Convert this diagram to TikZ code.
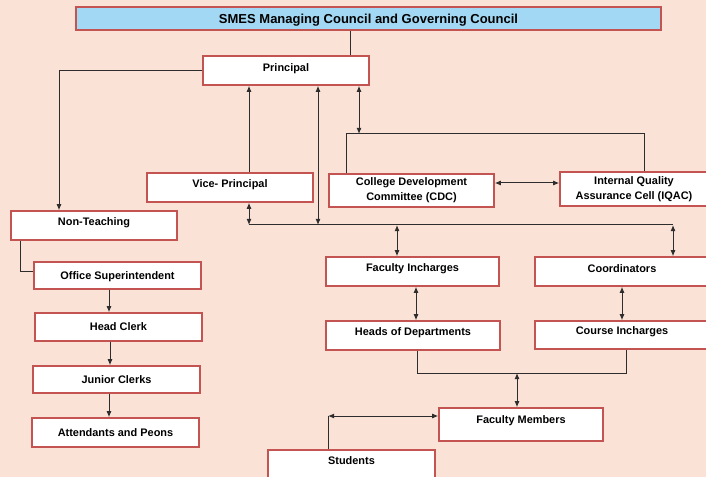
\documentclass[tikz,border=0pt]{standalone}
\usepackage{fontspec}
\setmainfont{Liberation Sans}
\usetikzlibrary{arrows.meta}
\definecolor{bgpeach}{RGB}{251,226,214}
\definecolor{boxred}{RGB}{196,84,82}
\definecolor{topblue}{RGB}{162,216,243}
\definecolor{linegray}{RGB}{45,45,45}

\tikzset{
  orgbox/.style 2 args={draw=boxred, line width=1.1pt, fill=white, inner sep=0pt,
    minimum width=#1*0.75pt, minimum height=#2*0.75pt,
    font=\fontsize{8.2}{11.3}\selectfont\bfseries},
  midbox/.style={text height=5.9pt, text depth=0pt},
  upbox/.style={text height=5.9pt, text depth=6.5pt},
  link/.style={draw=linegray, line width=0.75pt},
  onehead/.style={link, -{Latex[length=4.6pt,width=3.8pt]}},
  twohead/.style={link, {Latex[length=4.6pt,width=3.8pt]}-{Latex[length=4.6pt,width=3.8pt]}},
}

\begin{document}
\begin{tikzpicture}[x=0.75pt,y=0.75pt,yscale=-1,xscale=1]
\useasboundingbox (0,0) rectangle (706,477);
\clip (0,0) rectangle (706,477);
\fill[bgpeach] (0,0) rectangle (706,477);

%Shape: Rectangle (council)
\node[orgbox={585}{23}, fill=topblue, text height=7pt, text depth=0pt,
  font=\fontsize{9.75}{11}\selectfont\bfseries] (council) at (368.5,18.5) {SMES Managing Council and Governing Council};
%Shape: Rectangle (management)
\node[orgbox={166}{29}, upbox, text depth=4.8pt] (principal) at (286,70.5) {Principal};
\node[orgbox={166}{29}, upbox] (vice) at (230,187.5) {Vice- Principal};
\node[orgbox={166}{29}, upbox] (nonteach) at (94,225.5) {Non-Teaching};
\node[orgbox={165}{33}, align=center] (cdc) at (411.5,190.5) {College Development\\Committee (CDC)};
\node[orgbox={148}{34}, align=center] (iqac) at (634,189) {Internal Quality\\Assurance Cell (IQAC)};
%Shape: Rectangle (academic)
\node[orgbox={173}{29}, upbox] (facinch) at (412.5,271.5) {Faculty Incharges};
\node[orgbox={174}{29}, upbox, text depth=4.8pt] (coord) at (622,271.5) {Coordinators};
\node[orgbox={174}{29}, upbox] (hod) at (413,335.5) {Heads of Departments};
\node[orgbox={174}{28}, upbox] (course) at (622,335) {Course Incharges};
\node[orgbox={164}{33}, upbox, text depth=8pt] (facmem) at (521,424.5) {Faculty Members};
\node[orgbox={167}{29}, upbox] (students) at (351.5,464.5) {Students};
%Shape: Rectangle (office)
\node[orgbox={167}{27}, midbox] (office) at (117.5,275.5) {Office Superintendent};
\node[orgbox={167}{28}, midbox] (head) at (118.5,327) {Head Clerk};
\node[orgbox={167}{27}, midbox] (junior) at (116.5,379.5) {Junior Clerks};
\node[orgbox={167}{29}, midbox] (attend) at (115.5,432.5) {Attendants and Peons};

\coordinate (busL) at (249,225);
\coordinate (busR) at (673,225);
\coordinate (barL) at (346,134);
\coordinate (barR) at (644,134);
\coordinate (joinL) at (417,373);
\coordinate (joinR) at (626,373);
\coordinate (stuC) at (328,416);

%Straight Lines (top)
\draw[link] (350,0 |- council.south) -- (350,0 |- principal.north);
\draw[onehead] (principal.west) -| (59,0 |- nonteach.north);
\draw[onehead] (249,0 |- vice.north) -- (249,0 |- principal.south);
\draw[twohead] (318,0 |- principal.south) -- (318,0 |- busL);
\draw[twohead] (359,0 |- principal.south) -- (359,0 |- barL);
\draw[link] (cdc.north -| barL) -- (barL) -- (barR) -- (iqac.north -| barR);
\draw[twohead] (cdc.east |- 0,183) -- (iqac.west |- 0,183);
%Straight Lines (bus)
\draw[link] (busL) -- (busR);
\draw[twohead] (busL |- vice.south) -- (busL);
\draw[twohead] (397,0 |- busL) -- (397,0 |- facinch.north);
\draw[twohead] (busR) -- (busR |- coord.north);
\draw[twohead] (416,0 |- facinch.south) -- (416,0 |- hod.north);
\draw[twohead] (coord.south) -- (course.north);
\draw[link] (hod.south -| joinL) -- (joinL) -- (joinR) -- (course.south -| joinR);
\draw[twohead] (517,0 |- joinL) -- (517,0 |- facmem.north);
\draw[link] (students.north -| stuC) -- (stuC);
\draw[twohead] (stuC) -- (facmem.west |- stuC);
%Straight Lines (office)
\draw[link] (20,0 |- nonteach.south) -- (20,271) -- (office.west |- 0,271);
\draw[onehead] (109,0 |- office.south) -- (109,0 |- head.north);
\draw[onehead] (110,0 |- head.south) -- (110,0 |- junior.north);
\draw[onehead] (109,0 |- junior.south) -- (109,0 |- attend.north);

\end{tikzpicture}
\end{document}
